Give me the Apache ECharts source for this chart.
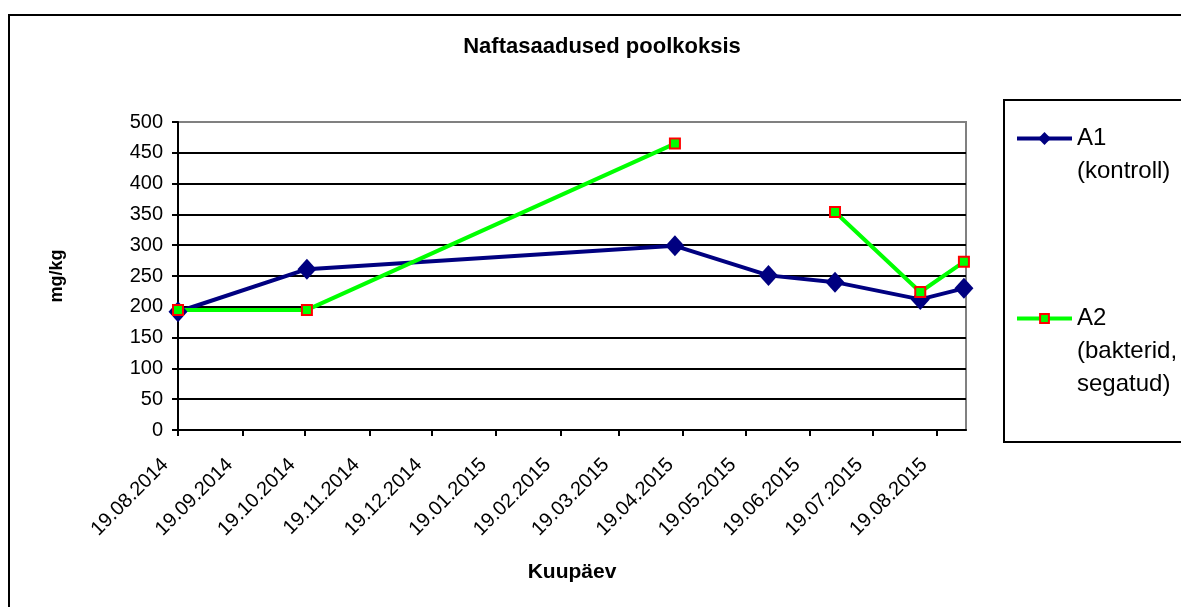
<!DOCTYPE html>
<html>
<head>
<meta charset="utf-8">
<title>Naftasaadused poolkoksis</title>
<script src="https://cdn.jsdelivr.net/npm/echarts@6/dist/echarts.min.js"></script>
<style>
  html, body { margin: 0; padding: 0; background: #fff; }
  #chart { width: 1181px; height: 607px; }
</style>
</head>
<body>
<div id="chart"></div>
<script>
// sampling dates and measured values (mg/kg)
var sampleDates = ['2014-08-19', '2014-10-20', '2015-04-15', '2015-05-30', '2015-07-01', '2015-08-11', '2015-09-01'];
var a1Values = [192, 261, 299, 251, 240, 212, 230];
var a2Values = [195, 195, 465, null, 354, 224, 273];

var tickDates = ['2014-08-19', '2014-09-19', '2014-10-19', '2014-11-19', '2014-12-19', '2015-01-19',
  '2015-02-19', '2015-03-19', '2015-04-19', '2015-05-19', '2015-06-19', '2015-07-19', '2015-08-19'];
var axisStart = '2014-08-19';
var axisEnd = '2015-09-02';

var seriesNames = ['A1', 'A2'];
var legendLabels = ['\nA1\n(kontroll)', '\n\nA2\n(bakterid,\nsegatud)'];

var font = 'Liberation Sans, Arial, sans-serif';

function ts(s) {
  var p = s.split('-');
  return Date.UTC(+p[0], +p[1] - 1, +p[2]);
}
function pad(n) { return n < 10 ? '0' + n : '' + n; }
function fmtDate(v) {
  var d = new Date(v);
  return pad(d.getUTCDate()) + '.' + pad(d.getUTCMonth() + 1) + '.' + d.getUTCFullYear();
}
function pairs(vals) {
  return sampleDates.map(function (d, i) {
    return [ts(d), vals[i] == null ? '-' : vals[i]];
  });
}

var tickVals = tickDates.map(ts);
var myChart = echarts.init(document.getElementById('chart'));

var option = {
  animation: false,
  backgroundColor: '#fff',
  textStyle: { fontFamily: font, color: '#000' },
  grid: {
    left: 178, right: 215, top: 122, bottom: 177,
    show: true, borderColor: '#808080', borderWidth: 2, backgroundColor: 'transparent'
  },
  xAxis: {
    type: 'value',
    min: ts(axisStart),
    max: ts(axisEnd),
    axisLine: { lineStyle: { color: '#000', width: 2 } },
    axisTick: { show: true, customValues: tickVals, length: 6, lineStyle: { color: '#000', width: 2 } },
    axisLabel: {
      customValues: tickVals, rotate: 45, margin: 19,
      padding: [0, 18, 0, 0],
      fontSize: 20, color: '#000', fontFamily: font,
      formatter: fmtDate
    },
    splitLine: { show: false },
    name: 'Kuupäev',
    nameLocation: 'middle',
    nameGap: 132,
    nameTextStyle: { fontWeight: 'bold', fontSize: 21, color: '#000', fontFamily: font }
  },
  yAxis: {
    type: 'value',
    min: 0, max: 500, interval: 50,
    axisLine: { show: true, lineStyle: { color: '#000', width: 2 } },
    axisTick: { show: true, length: 6, lineStyle: { color: '#000', width: 2 } },
    axisLabel: { fontSize: 20, color: '#000', margin: 15, fontFamily: font },
    splitLine: { show: true, showMaxLine: false, lineStyle: { color: '#000', width: 2 } },
    name: 'mg/kg',
    nameLocation: 'middle',
    nameRotate: 90,
    nameGap: 112,
    nameTextStyle: { fontWeight: 'bold', fontSize: 18, color: '#000', fontFamily: font }
  },
  legend: [
    {
      data: [seriesNames[0]], orient: 'vertical', left: 1015, top: 89, padding: 0,
      itemWidth: 55, itemHeight: 16, selectedMode: false,
      lineStyle: { width: 4 },
      formatter: function () { return legendLabels[0]; },
      textStyle: { fontSize: 24, lineHeight: 33, color: '#000', fontFamily: font }
    },
    {
      data: [seriesNames[1]], orient: 'vertical', left: 1015, top: 236, padding: 0,
      itemWidth: 55, itemHeight: 11, selectedMode: false,
      lineStyle: { width: 4 },
      formatter: function () { return legendLabels[1]; },
      textStyle: { fontSize: 24, lineHeight: 33, color: '#000', fontFamily: font }
    }
  ],
  graphic: [
    {
      type: 'rect', z: -1, silent: true,
      shape: { x: 9, y: 15, width: 1200, height: 620 },
      style: { fill: 'none', stroke: '#000', lineWidth: 2 }
    },
    {
      type: 'rect', z: -1, silent: true,
      shape: { x: 1004, y: 100, width: 200, height: 342 },
      style: { fill: 'none', stroke: '#000', lineWidth: 2 }
    },
    {
      type: 'text', x: 602, y: 47,
      style: {
        text: 'Naftasaadused poolkoksis', fill: '#000',
        font: 'bold 22px ' + font, align: 'center', verticalAlign: 'middle'
      }
    }
  ],
  series: [
    {
      name: seriesNames[0],
      type: 'line',
      data: pairs(a1Values),
      symbol: 'diamond',
      symbolSize: [19, 21],
      lineStyle: { color: '#000080', width: 4 },
      itemStyle: { color: '#000080' }
    },
    {
      name: seriesNames[1],
      type: 'line',
      data: pairs(a2Values),
      connectNulls: false,
      symbol: 'rect',
      symbolSize: 10,
      lineStyle: { color: '#00ff00', width: 4 },
      itemStyle: { color: '#00ff00', borderColor: '#ff0000', borderWidth: 2 }
    }
  ]
};

myChart.setOption(option);
</script>
</body>
</html>
